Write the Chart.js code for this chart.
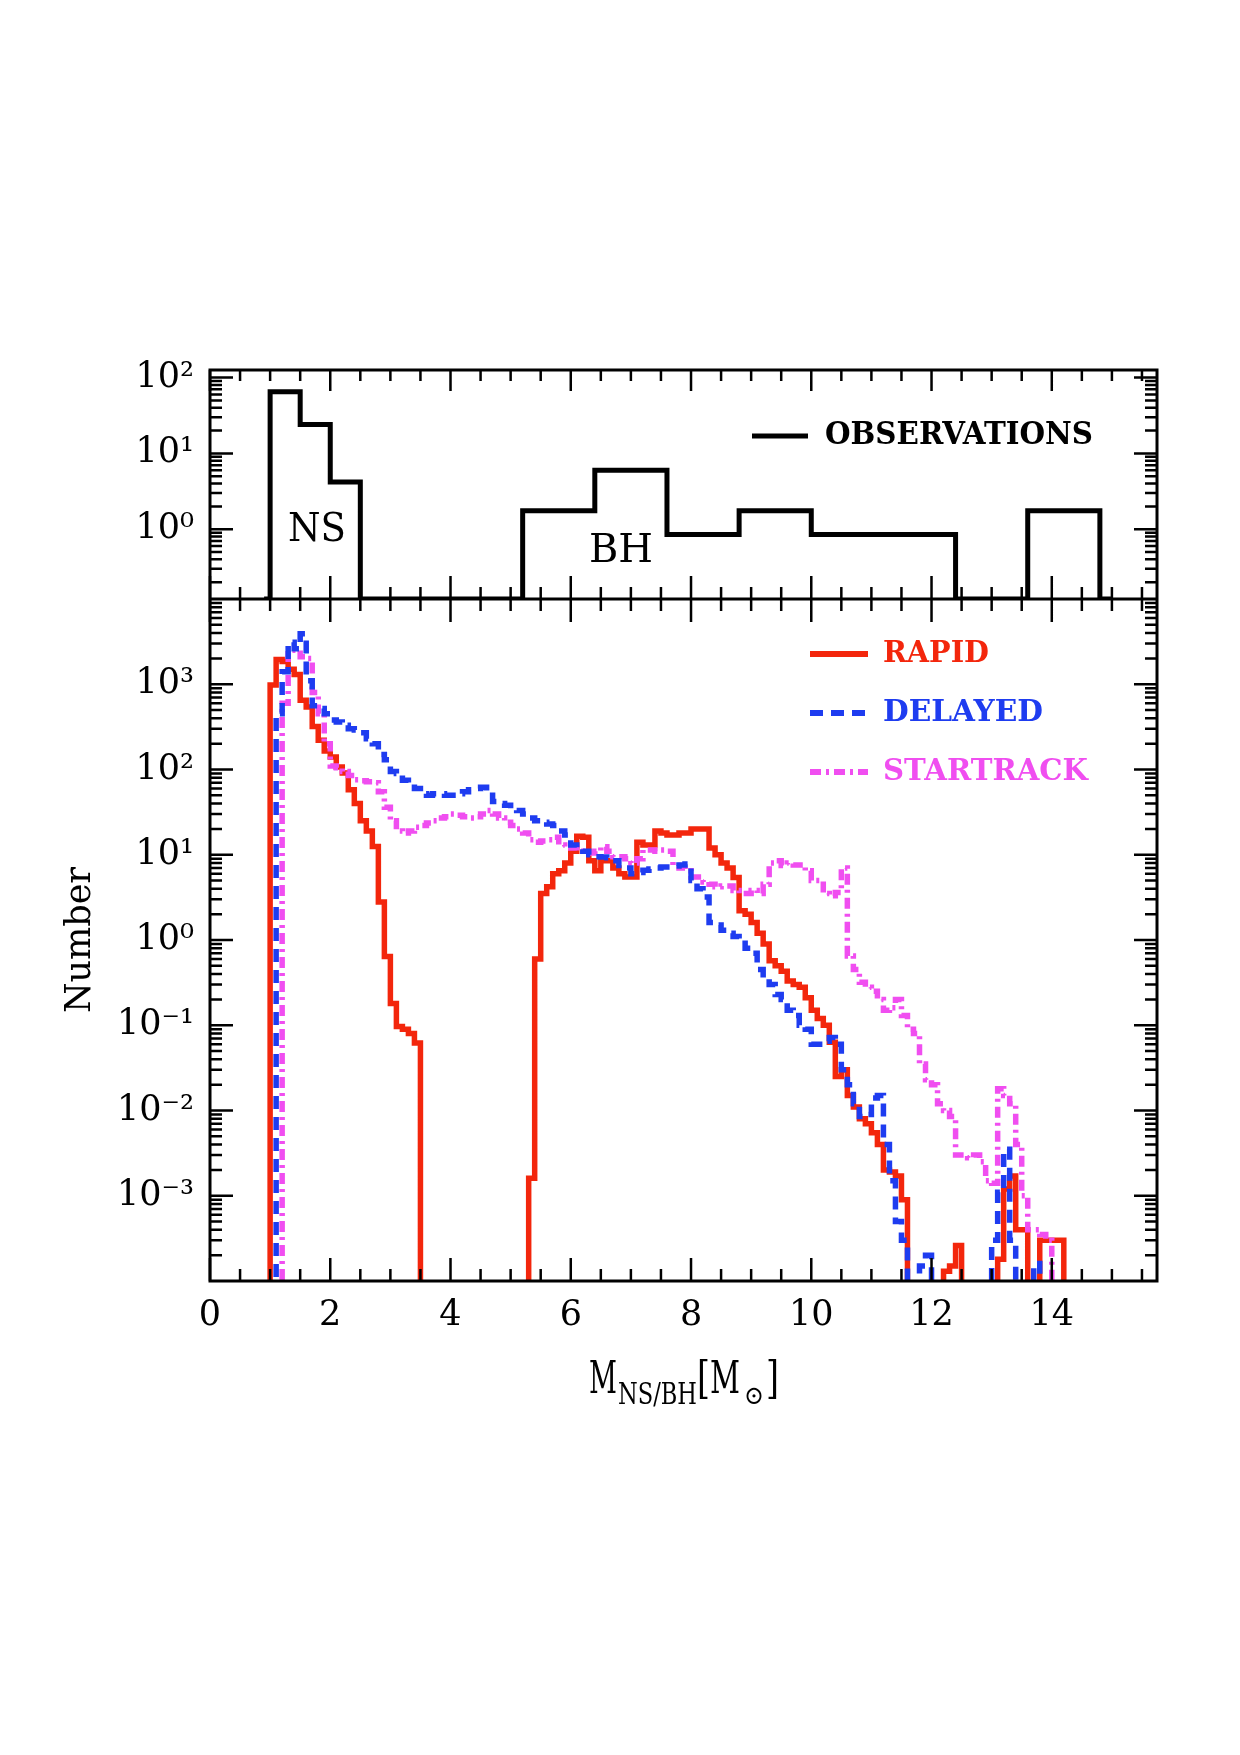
<!DOCTYPE html>
<html><head><meta charset="utf-8">
<script src="https://cdn.jsdelivr.net/npm/chart.js@4.4.1/dist/chart.umd.min.js"></script>
<style>html,body{margin:0;padding:0;background:#fff;} canvas{display:block;}</style>
</head><body>
<canvas id="c" width="1240" height="1755"></canvas>
<script>
// ---------- DATA ----------
// Left edges of the 0.1 Msun mass bins of the model histograms (last value closes the last bin)
const massEdges = [
  0.9,1.0,1.1,1.2,1.3,1.4,1.5,1.6,1.7,1.8,
  1.9,2.0,2.1,2.2,2.3,2.4,2.5,2.6,2.7,2.8,
  2.9,3.0,3.1,3.2,3.3,3.4,3.5,3.6,3.7,3.8,
  3.9,4.0,4.1,4.2,4.3,4.4,4.5,4.6,4.7,4.8,
  4.9,5.0,5.1,5.2,5.3,5.4,5.5,5.6,5.7,5.8,
  5.9,6.0,6.1,6.2,6.3,6.4,6.5,6.6,6.7,6.8,
  6.9,7.0,7.1,7.2,7.3,7.4,7.5,7.6,7.7,7.8,
  7.9,8.0,8.1,8.2,8.3,8.4,8.5,8.6,8.7,8.8,
  8.9,9.0,9.1,9.2,9.3,9.4,9.5,9.6,9.7,9.8,
  9.9,10.0,10.1,10.2,10.3,10.4,10.5,10.6,10.7,10.8,
  10.9,11.0,11.1,11.2,11.3,11.4,11.5,11.6,11.7,11.8,
  11.9,12.0,12.1,12.2,12.3,12.4,12.5,12.6,12.7,12.8,
  12.9,13.0,13.1,13.2,13.3,13.4,13.5,13.6,13.7,13.8,
  13.9,14.0,14.1,14.2,14.3,14.4,14.5
];
const rapidCounts = [
  0, 980, 1950, 1850, 1500, 1300, 650, 540, 320, 220,
  165, 140, 107, 91, 58, 40, 25, 19, 12.5, 2.8,
  0.64, 0.18, 0.097, 0.09, 0.08, 0.062, 0, 0, 0, 0,
  0, 0, 0, 0, 0, 0, 0, 0, 0, 0,
  0, 0, 0, 0, 0.0016, 0.6, 3.5, 4.2, 6, 6.5,
  8, 11, 16.5, 16, 8.5, 6.5, 8.5, 8.5, 7, 6,
  5.5, 5.5, 14, 13, 13, 19, 18, 17, 17, 18,
  18, 20, 20, 20, 12, 10, 8, 7, 5.4, 2.2,
  2.0, 1.6, 1.2, 0.9, 0.57, 0.5, 0.43, 0.33, 0.3, 0.28,
  0.21, 0.15, 0.12, 0.1, 0.063, 0.025, 0.03, 0.015, 0.011, 0.008,
  0.007, 0.0055, 0.004, 0.002, 0.0019, 0.0017, 0.0009, 0, 0, 0,
  0, 0, 0, 0.00013, 0.00015, 0.00026, 0, 0, 0, 0,
  0, 0, 0.00018, 0.0012, 0.0017, 0.0004, 0.0004, 0, 0, 0.0003,
  0.0003, 0.0003, 0.0003, 0, 0, 0
];
const delayedCounts = [
  0, 0, 450, 1400, 3100, 2600, 3900, 1100, 560, 520,
  450, 380, 360, 330, 300, 290, 270, 230, 200, 150,
  130, 95, 90, 75, 70, 60, 52, 50, 52, 52,
  50, 50, 52, 55, 58, 60, 62, 55, 42, 40,
  38, 35, 33, 30, 27, 25, 24, 23, 22, 19,
  17, 13, 12, 11, 10, 9.5, 9.4, 9.2, 8.5, 7.5,
  7, 6, 6.2, 6.6, 6.8, 7, 7.2, 7.2, 7.4, 7.6,
  7.8, 5, 4, 3.2, 1.6, 1.5, 1.3, 1.2, 1.1, 1.0,
  0.8, 0.7, 0.45, 0.35, 0.3, 0.23, 0.2, 0.15, 0.13, 0.1,
  0.09, 0.06, 0.06, 0.065, 0.072, 0.06, 0.03, 0.02, 0.012, 0.0085,
  0.009, 0.014, 0.015, 0.004, 0.0015, 0.0005, 0.0003, 0, 0, 0.00015,
  0.0002, 0, 0, 0, 0, 0, 0, 0, 0, 0,
  0, 0.0003, 0.0011, 0.0035, 0.0003, 0, 0, 0, 0.00016, 0,
  0, 0, 0, 0, 0, 0
];
const startrackCounts = [
  0, 0, 0, 600, 2500, 2500, 2100, 2000, 800, 450,
  200, 110, 105, 95, 85, 76, 74, 72, 70, 55,
  36, 25, 19, 18, 19, 21, 22, 23.5, 25, 27,
  28, 30, 29, 28, 27, 28, 30, 33, 30, 27,
  24, 22, 20, 18, 15, 14, 14.5, 15, 16, 13,
  12.4, 12, 11, 10.5, 10.5, 11, 12.4, 11, 9.5, 9.5,
  9, 8, 9, 11.4, 11.4, 11, 11.4, 11, 7.5, 7,
  6.5, 5.5, 5.5, 4.8, 4.5, 4.2, 4.3, 4.3, 3.8, 3.5,
  3.5, 3.8, 3.5, 4.5, 8, 8.5, 7.5, 8, 7.6, 7.6,
  6.5, 5, 5, 3.5, 3.3, 3.6, 7, 0.65, 0.45, 0.32,
  0.28, 0.25, 0.2, 0.15, 0.16, 0.2, 0.13, 0.09, 0.08, 0.035,
  0.023, 0.02, 0.012, 0.01, 0.0085, 0.003, 0.003, 0.0028, 0.003, 0.0025,
  0.0015, 0.0014, 0.018, 0.015, 0.012, 0.004, 0.001, 0.0004, 0.0004, 0.00035,
  0.0003, 0, 0, 0, 0, 0
];
// Observed NS / BH masses (top panel)
const obsEdges  = [0.9, 1.0, 1.5, 2.0, 2.5, 5.2, 6.4, 7.6, 8.8, 10.0, 11.2, 12.4, 13.6, 14.8, 15.0];
const obsCounts = [0,   65,  24,  4.2, 0,   1.75, 6,  0.85, 1.75, 0.85, 0.85, 0,   1.75, 0,    0];

const xTickValues = [0, 2, 4, 6, 8, 10, 12, 14];
const xTickLabels = ['0', '2', '4', '6', '8', '10', '12', '14'];
const topTickValues = [1, 10, 100];
const topTickLabels = ['10⁰', '10¹', '10²'];
const botTickValues = [0.001, 0.01, 0.1, 1, 10, 100, 1000];
const botTickLabels = ['10⁻³', '10⁻²', '10⁻¹', '10⁰', '10¹', '10²', '10³'];

const seriesNames  = ['RAPID', 'DELAYED', 'STARTRACK'];
const seriesColors = ['#f3260c', '#1e3cf0', '#f04ef0'];
const seriesDash   = [[], [13, 8], [11, 5, 3, 5]];

// ---------- CHART ----------
const FONT = "'DejaVu Serif', 'Liberation Serif', serif";
const BOT_MIN = 1e-4, BOT_MAX = 1e4;
const TOP_MIN = 0.12, TOP_MAX = 126;
const EMPTY_BIN = 1e-8;   // empty model bins fall below the axis, like log(0)
const EMPTY_OBS = TOP_MIN; // empty observed bins sit on the panel's lower edge

function histogram(edges, counts, emptyValue) {
  return edges.map((e, i) => ({x: e, y: (counts[i] || 0) === 0 ? emptyValue : counts[i]}));
}
function labelFor(values, labels) {
  return (v) => { const i = values.indexOf(v); return i >= 0 ? labels[i] : ''; };
}

const decor = {
  id: 'decor',
  afterDraw(chart) {
    const {ctx, chartArea: a} = chart;
    const xs = chart.scales.x, yT = chart.scales.yTop, yB = chart.scales.yBot;
    const divY = yT.bottom;
    ctx.save();
    ctx.strokeStyle = '#000';
    ctx.lineCap = 'butt';
    ctx.setLineDash([]);
    // x ticks (every 0.5, major every 2)
    ctx.lineWidth = 2.5;
    ctx.beginPath();
    for (let k = 0; k * 0.5 <= xs.max; k++) {
      const v = k * 0.5;
      const px = xs.getPixelForValue(v);
      const major = (v % 2 === 0);
      const L = major ? 23 : 12;
      ctx.moveTo(px, a.top); ctx.lineTo(px, a.top + (major ? 21 : 11));
      ctx.moveTo(px, divY); ctx.lineTo(px, divY - L);
      ctx.moveTo(px, divY); ctx.lineTo(px, divY + L);
      ctx.moveTo(px, a.bottom); ctx.lineTo(px, a.bottom - L);
    }
    // log y ticks on both sides
    const yTicks = (s) => {
      const lo = Math.floor(Math.log10(s.min)), hi = Math.ceil(Math.log10(s.max));
      for (let e = lo; e <= hi; e++) {
        for (let m = 1; m <= 9; m++) {
          const v = m * Math.pow(10, e);
          if (v < s.min * 1.0001 || v > s.max * 0.9999) continue;
          const py = s.getPixelForValue(v);
          const L = m === 1 ? 23 : 12;
          ctx.moveTo(a.left, py); ctx.lineTo(a.left + L, py);
          ctx.moveTo(a.right, py); ctx.lineTo(a.right - L, py);
        }
      }
    };
    yTicks(yT); yTicks(yB);
    ctx.stroke();
    // frame + divider
    ctx.lineWidth = 3;
    ctx.strokeRect(a.left, a.top, a.right - a.left, a.bottom - a.top);
    ctx.beginPath(); ctx.moveTo(a.left, divY); ctx.lineTo(a.right, divY); ctx.stroke();

    // legend of top panel
    ctx.lineWidth = 5;
    ctx.beginPath(); ctx.moveTo(752, 436); ctx.lineTo(808, 436); ctx.stroke();
    ctx.fillStyle = '#000';
    ctx.textAlign = 'left';
    ctx.textBaseline = 'middle';
    ctx.font = 'bold 31px ' + FONT;
    ctx.fillText('OBSERVATIONS', 825, 436, 268);

    // legend of bottom panel
    const ly = [654, 713, 772];
    const lw = [106, 160, 205];
    for (let i = 0; i < 3; i++) {
      ctx.strokeStyle = seriesColors[i];
      ctx.lineWidth = 6;
      ctx.setLineDash(seriesDash[i]);
      ctx.beginPath(); ctx.moveTo(810, ly[i]); ctx.lineTo(868, ly[i]); ctx.stroke();
      ctx.setLineDash([]);
      ctx.fillStyle = seriesColors[i];
      ctx.font = 'bold 30px ' + FONT;
      ctx.fillText(seriesNames[i], 883, ly[i], lw[i]);
    }

    // NS / BH annotations
    ctx.fillStyle = '#000';
    ctx.textAlign = 'center';
    ctx.font = '40px ' + FONT;
    ctx.fillText('NS', 317, 531, 58);
    ctx.fillText('BH', 621, 552, 64);

    // x-axis title  M_{NS/BH}[M_sun]
    ctx.textAlign = 'left';
    ctx.textBaseline = 'alphabetic';
    ctx.font = '44px ' + FONT;
    ctx.fillText('M', 589, 1393, 28);
    ctx.font = '30px ' + FONT;
    ctx.fillText('NS/BH', 618, 1404, 79);
    ctx.font = '44px ' + FONT;
    ctx.fillText('[', 697, 1393, 13);
    ctx.fillText('M', 710, 1393, 30);
    ctx.font = '26px ' + FONT;
    ctx.fillText('⊙', 744, 1404, 20);
    ctx.font = '44px ' + FONT;
    ctx.fillText(']', 766, 1393, 13);
    ctx.restore();
  }
};

const baseLine = {pointRadius: 0, stepped: true, fill: false, clip: 0, xAxisID: 'x'};

new Chart(document.getElementById('c'), {
  type: 'line',
  data: {
    datasets: [
      Object.assign({label: seriesNames[1], data: histogram(massEdges, delayedCounts, EMPTY_BIN),
        borderColor: seriesColors[1], borderWidth: 5.5, borderDash: seriesDash[1], yAxisID: 'yBot'}, baseLine),
      Object.assign({label: seriesNames[2], data: histogram(massEdges, startrackCounts, EMPTY_BIN),
        borderColor: seriesColors[2], borderWidth: 5.5, borderDash: seriesDash[2], yAxisID: 'yBot'}, baseLine),
      Object.assign({label: seriesNames[0], data: histogram(massEdges, rapidCounts, EMPTY_BIN),
        borderColor: seriesColors[0], borderWidth: 5.5, yAxisID: 'yBot'}, baseLine),
      Object.assign({label: 'OBSERVATIONS', data: histogram(obsEdges, obsCounts, EMPTY_OBS),
        borderColor: '#000', borderWidth: 5, yAxisID: 'yTop'}, baseLine)
    ]
  },
  options: {
    responsive: false,
    animation: false,
    devicePixelRatio: 1,
    events: [],
    layout: {padding: {left: 50, right: 83, top: 370, bottom: 324}},
    plugins: {legend: {display: false}, tooltip: {enabled: false}},
    scales: {
      x: {
        type: 'linear', position: 'bottom', min: 0, max: 15.75,
        grid: {display: false, drawTicks: false}, border: {display: false},
        afterBuildTicks: (s) => { s.ticks = xTickValues.map(v => ({value: v})); },
        afterFit: (s) => { s.height = 150; },
        ticks: {autoSkip: false, maxRotation: 0, padding: 14, color: '#000',
          font: {family: FONT, size: 35}, callback: labelFor(xTickValues, xTickLabels)}
      },
      yBot: {
        type: 'logarithmic', position: 'left', stack: 'panels', stackWeight: 682,
        min: BOT_MIN, max: BOT_MAX,
        grid: {display: false, drawTicks: false}, border: {display: false},
        afterBuildTicks: (s) => { s.ticks = botTickValues.map(v => ({value: v})); },
        afterFit: (s) => { s.width = 160; },
        ticks: {autoSkip: false, padding: 16, color: '#000',
          font: {family: FONT, size: 35}, callback: labelFor(botTickValues, botTickLabels)},
        title: {display: true, text: 'Number', color: '#000',
          font: {family: FONT, size: 35}, padding: {top: 10, bottom: 0}}
      },
      yTop: {
        type: 'logarithmic', position: 'left', stack: 'panels', stackWeight: 229,
        min: TOP_MIN, max: TOP_MAX,
        grid: {display: false, drawTicks: false}, border: {display: false},
        afterBuildTicks: (s) => { s.ticks = topTickValues.map(v => ({value: v})); },
        afterFit: (s) => { s.width = 160; },
        ticks: {autoSkip: false, padding: 16, color: '#000',
          font: {family: FONT, size: 35}, callback: labelFor(topTickValues, topTickLabels)}
      }
    }
  },
  plugins: [decor]
});
</script>
</body></html>
